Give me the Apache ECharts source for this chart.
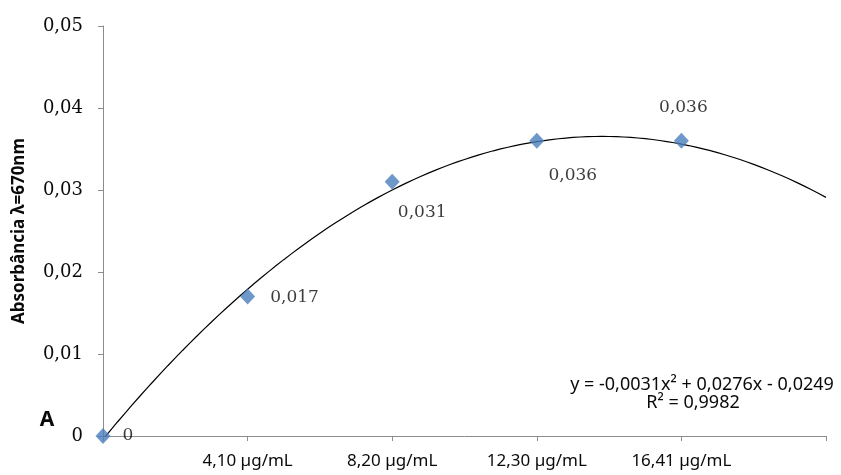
<!DOCTYPE html>
<html>
<head>
<meta charset="utf-8">
<script src="https://cdn.jsdelivr.net/npm/echarts@6/dist/echarts.min.js"></script>
<style>
  html, body { margin: 0; padding: 0; background: #ffffff; }
  #chart { width: 841px; height: 475px; }
</style>
</head>
<body>
<div id="chart"></div>
<script>
// Concentration steps (x positions 1..6) and their axis labels
const xPositions = [1, 2, 3, 4, 5];
const tickLabels = ['', '4,10 \u00b5g/mL', '8,20 \u00b5g/mL', '12,30 \u00b5g/mL', '16,41 \u00b5g/mL', ''];

// Measured absorbance at 670 nm
const absorbance = [0, 0.017, 0.031, 0.036, 0.036];
const pointLabels = ['0', '0,017', '0,031', '0,036', '0,036'];

// Polynomial trendline coefficients (y = a x^2 + b x + c)
const trendA = -0.0031;
const trendB = 0.0276;
const trendC = -0.0249;
const trendFrom = 1;
const trendTo = 6;

const equationText = 'y = -0,0031x\u00b2 + 0,0276x - 0,0249';
const r2Text = 'R\u00b2 = 0,9982';

// Label nudges for each measured point (pixels from the marker centre)
const labelOffsets = [[25, 0], [47, 1], [30, 31], [36, 35], [2, -33]];

const trendPoints = [];
for (let i = 0; i <= 100; i++) {
  const x = trendFrom + (trendTo - trendFrom) * i / 100;
  trendPoints.push([x, trendA * x * x + trendB * x + trendC]);
}

const pointData = xPositions.map((x, i) => ({
  value: [x, absorbance[i]],
  label: { offset: labelOffsets[i], formatter: pointLabels[i] }
}));

const axisGray = '#8c8c8c';
const textColor = '#0a0a0a';
const chart = echarts.init(document.getElementById('chart'), null, { renderer: 'canvas' });

chart.setOption({
  backgroundColor: '#ffffff',
  animation: false,
  grid: { left: 103, right: 15, top: 26, bottom: 39, containLabel: false },
  xAxis: {
    type: 'value',
    min: 1, max: 6, interval: 1,
    axisLine: { show: true, lineStyle: { color: axisGray, width: 1 } },
    axisTick: { show: true, length: 5, lineStyle: { color: axisGray } },
    splitLine: { show: false },
    axisLabel: {
      margin: 17,
      color: textColor,
      fontFamily: 'Noto Sans',
      fontSize: 17,
      formatter: v => tickLabels[Math.round(v) - 1] || ''
    }
  },
  yAxis: {
    type: 'value',
    min: 0, max: 0.05, interval: 0.01,
    name: 'Absorb\u00e2ncia \u03bb=670nm',
    nameLocation: 'middle',
    nameGap: 75,
    nameRotate: 90,
    nameTextStyle: { fontFamily: 'Noto Sans', fontWeight: 'bold', fontSize: 17, color: textColor },
    axisLine: { show: true, lineStyle: { color: axisGray, width: 1 } },
    axisTick: { show: true, length: 5, lineStyle: { color: axisGray } },
    splitLine: { show: false },
    axisLabel: {
      margin: 20,
      color: textColor,
      fontFamily: 'DejaVu Serif',
      fontSize: 18,
      formatter: v => (v === 0 ? '0' : v.toFixed(2).replace('.', ','))
    }
  },
  series: [
    {
      type: 'line',
      name: 'trend',
      data: trendPoints,
      showSymbol: false,
      smooth: false,
      lineStyle: { color: '#000000', width: 1.2 },
      z: 2
    },
    {
      type: 'scatter',
      name: 'absorbance',
      data: pointData,
      symbol: 'diamond',
      symbolSize: [15, 16],
      itemStyle: { color: '#4a7ebb' },
      label: {
        show: true,
        position: 'inside',
        color: textColor,
        fontFamily: 'DejaVu Serif',
        fontSize: 17
      },
      z: 3
    }
  ],
  graphic: [
    {
      type: 'text',
      x: 702, y: 385,
      style: { text: equationText, fontFamily: 'Noto Sans', fontSize: 18, fill: textColor, textAlign: 'center', textVerticalAlign: 'middle' }
    },
    {
      type: 'text',
      x: 693, y: 403,
      style: { text: r2Text, fontFamily: 'Noto Sans', fontSize: 18, fill: textColor, textAlign: 'center', textVerticalAlign: 'middle' }
    },
    {
      type: 'text',
      x: 47, y: 420,
      style: { text: 'A', fontFamily: 'Noto Sans', fontWeight: 'bold', fontSize: 21, fill: textColor, textAlign: 'center', textVerticalAlign: 'middle' }
    }
  ]
});
</script>
</body>
</html>
